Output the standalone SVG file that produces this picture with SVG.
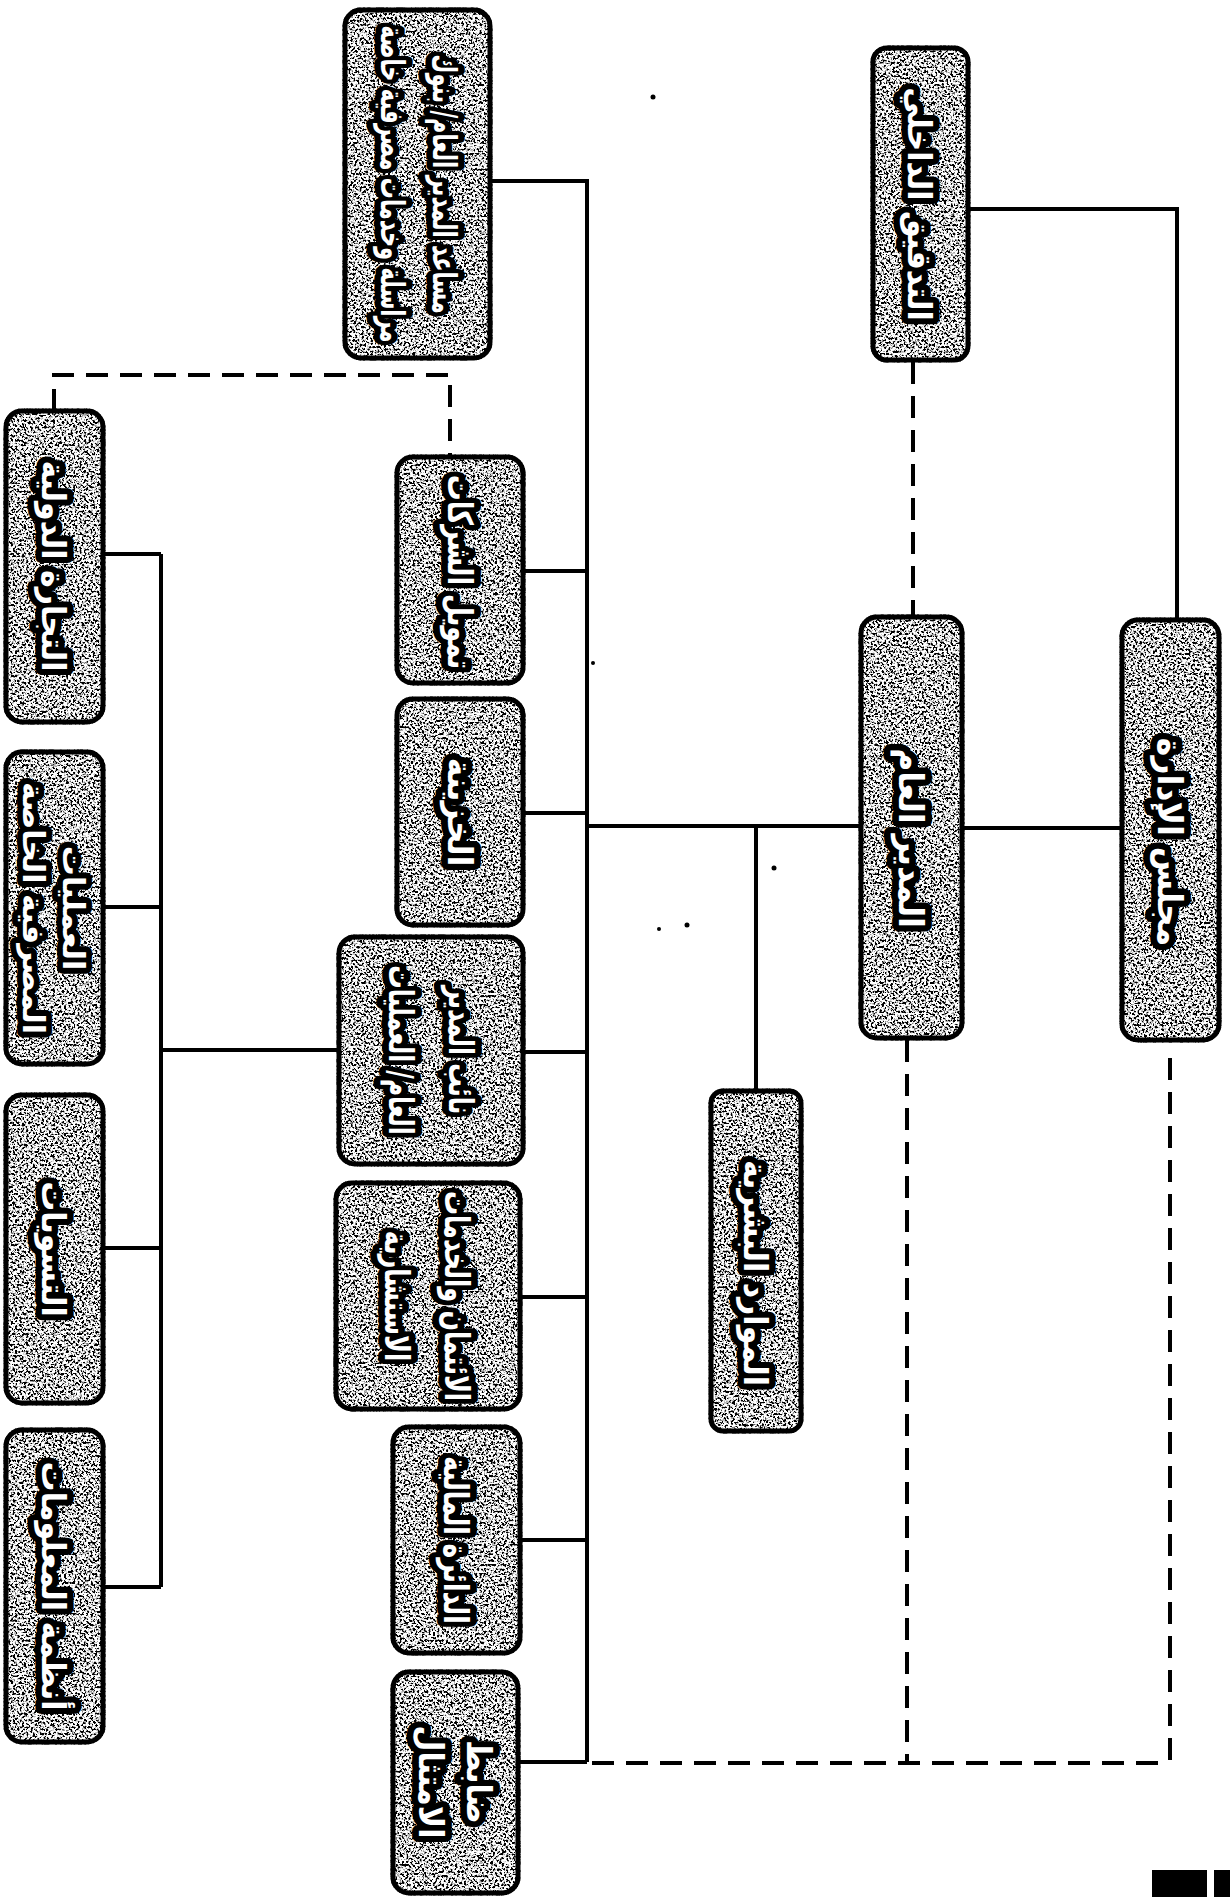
<svg xmlns="http://www.w3.org/2000/svg" width="1230" height="1897" viewBox="0 0 1230 1897">
<style>
.bg{fill:#fff}
.box{fill:#fff;stroke:#000;stroke-width:5;filter:url(#grain)}
.lbl{font-family:"DejaVu Sans",sans-serif;font-weight:bold;font-size:30px;fill:#fff;stroke:#000;stroke-width:12;stroke-linejoin:round;paint-order:stroke;text-anchor:middle;dominant-baseline:central;direction:rtl}
.ln{fill:none;stroke:#000;stroke-width:4}
.dash{fill:none;stroke:#000;stroke-width:4;stroke-dasharray:22 12}
</style>
<defs>
<filter id="grain" x="-5%" y="-5%" width="110%" height="110%">
<feTurbulence type="fractalNoise" baseFrequency="0.45" numOctaves="3" seed="7" result="t"/>
<feColorMatrix in="t" type="matrix" values="0 0 0 0 0  0 0 0 0 0  0 0 0 0 0  -7 0 0 0 3.85" result="dots"/>
<feComposite in="dots" in2="SourceAlpha" operator="in" result="d2"/>
<feMerge><feMergeNode in="SourceGraphic"/><feMergeNode in="d2"/></feMerge>
</filter>
</defs>
<rect class="bg" x="0" y="0" width="1230" height="1897"/>

<g id="connectors">
<path class="ln" d="M490 181H587V1762"/>
<path class="ln" d="M968 209H1177V620"/>
<path class="ln" d="M962 828H1122"/>
<path class="ln" d="M861 826H587"/>
<path class="ln" d="M756 826V1091"/>
<path class="ln" d="M523 571H587M523 813H587M523 1052H587M520 1297H587M520 1540H587M518 1762H587"/>
<path class="ln" d="M339 1050H161"/>
<path class="ln" d="M161 554V1587"/>
<path class="ln" d="M103 554H161M103 907H161M103 1248H161M103 1587H161"/>
<path class="dash" d="M54 411V375H450V457"/>
<path class="dash" d="M913 362V617"/>
<path class="dash" d="M907 1040V1763"/>
<path class="dash" d="M1170 1058V1763"/>
<path class="dash" d="M592 1763H1170"/>
</g>

<g id="n-assistant-gm">
<rect class="box" x="345" y="10" width="145" height="348" rx="16"/>
<text class="lbl" transform="translate(419,184) rotate(90) scale(0.7,1.1)"><tspan x="0" y="-24">مساعد المدير العام/ بنوك</tspan><tspan x="0" y="24">مراسلة وخدمات مصرفية خاصة</tspan></text>
</g>
<g id="n-internal-audit">
<rect class="box" x="873" y="48" width="95" height="312" rx="14"/>
<text class="lbl" transform="translate(920,204) rotate(90) scale(1,1.1)">التدقيق الداخلي</text>
</g>
<g id="n-board">
<rect class="box" x="1122" y="620" width="97" height="420" rx="16"/>
<text class="lbl" transform="translate(1170,842) rotate(90) scale(1.05,1.15)">مجلس الإدارة</text>
</g>
<g id="n-gm">
<rect class="box" x="861" y="617" width="101" height="421" rx="16"/>
<text class="lbl" transform="translate(911,838) rotate(90) scale(1.05,1.15)">المدير العام</text>
</g>
<g id="n-hr">
<rect class="box" x="711" y="1091" width="90" height="340" rx="12"/>
<text class="lbl" transform="translate(756,1273) rotate(90) scale(1,1.1)">الموارد البشرية</text>
</g>
<g id="n-corporate-finance">
<rect class="box" x="397" y="457" width="126" height="226" rx="16"/>
<text class="lbl" transform="translate(460,572) rotate(90) scale(0.85,1.15)">تمويل الشركات</text>
</g>
<g id="n-treasury">
<rect class="box" x="397" y="699" width="126" height="226" rx="16"/>
<text class="lbl" transform="translate(460,812) rotate(90) scale(1.05,1.15)">الخزينة</text>
</g>
<g id="n-deputy-gm">
<rect class="box" x="339" y="937" width="184" height="227" rx="16"/>
<text class="lbl" transform="translate(431,1050) rotate(90) scale(0.78,1.15)"><tspan x="0" y="-26">نائب المدير</tspan><tspan x="0" y="26">العام/ العمليات</tspan></text>
</g>
<g id="n-credit">
<rect class="box" x="336" y="1183" width="184" height="226" rx="16"/>
<text class="lbl" transform="translate(428,1296) rotate(90) scale(0.8,1.15)"><tspan x="0" y="-26">الائتمان والخدمات</tspan><tspan x="0" y="26">الاستشارية</tspan></text>
</g>
<g id="n-finance">
<rect class="box" x="393" y="1427" width="127" height="226" rx="16"/>
<text class="lbl" transform="translate(456,1540) rotate(90) scale(0.83,1.15)">الدائرة المالية</text>
</g>
<g id="n-compliance">
<rect class="box" x="393" y="1672" width="125" height="221" rx="16"/>
<text class="lbl" transform="translate(455,1782) rotate(90) scale(1,1.15)"><tspan x="0" y="-21">ضابط</tspan><tspan x="0" y="21">الامتثال</tspan></text>
</g>
<g id="n-intl-trade">
<rect class="box" x="6" y="411" width="97" height="311" rx="16"/>
<text class="lbl" transform="translate(54,566) rotate(90) scale(1,1.1)">التجارة الدولية</text>
</g>
<g id="n-private-banking">
<rect class="box" x="6" y="752" width="97" height="312" rx="16"/>
<text class="lbl" transform="translate(54,908) rotate(90)"><tspan x="0" y="-20">العمليات</tspan><tspan x="0" y="20">المصرفية الخاصة</tspan></text>
</g>
<g id="n-settlements">
<rect class="box" x="6" y="1095" width="97" height="308" rx="16"/>
<text class="lbl" transform="translate(54,1249) rotate(90) scale(1,1.1)">التسويات</text>
</g>
<g id="n-info-systems">
<rect class="box" x="6" y="1430" width="97" height="312" rx="16"/>
<text class="lbl" transform="translate(54,1586) rotate(90) scale(1,1.1)">أنظمة المعلومات</text>
</g>

<g id="marks">
<circle cx="653" cy="97" r="2.5"/>
<circle cx="593" cy="663" r="2"/>
<circle cx="774" cy="868" r="2.5"/>
<circle cx="659" cy="929" r="2"/>
<circle cx="687" cy="925" r="2.5"/>
<rect x="1152" y="1870" width="55" height="27"/>
<rect x="1214" y="1870" width="16" height="27"/>
</g>
</svg>
